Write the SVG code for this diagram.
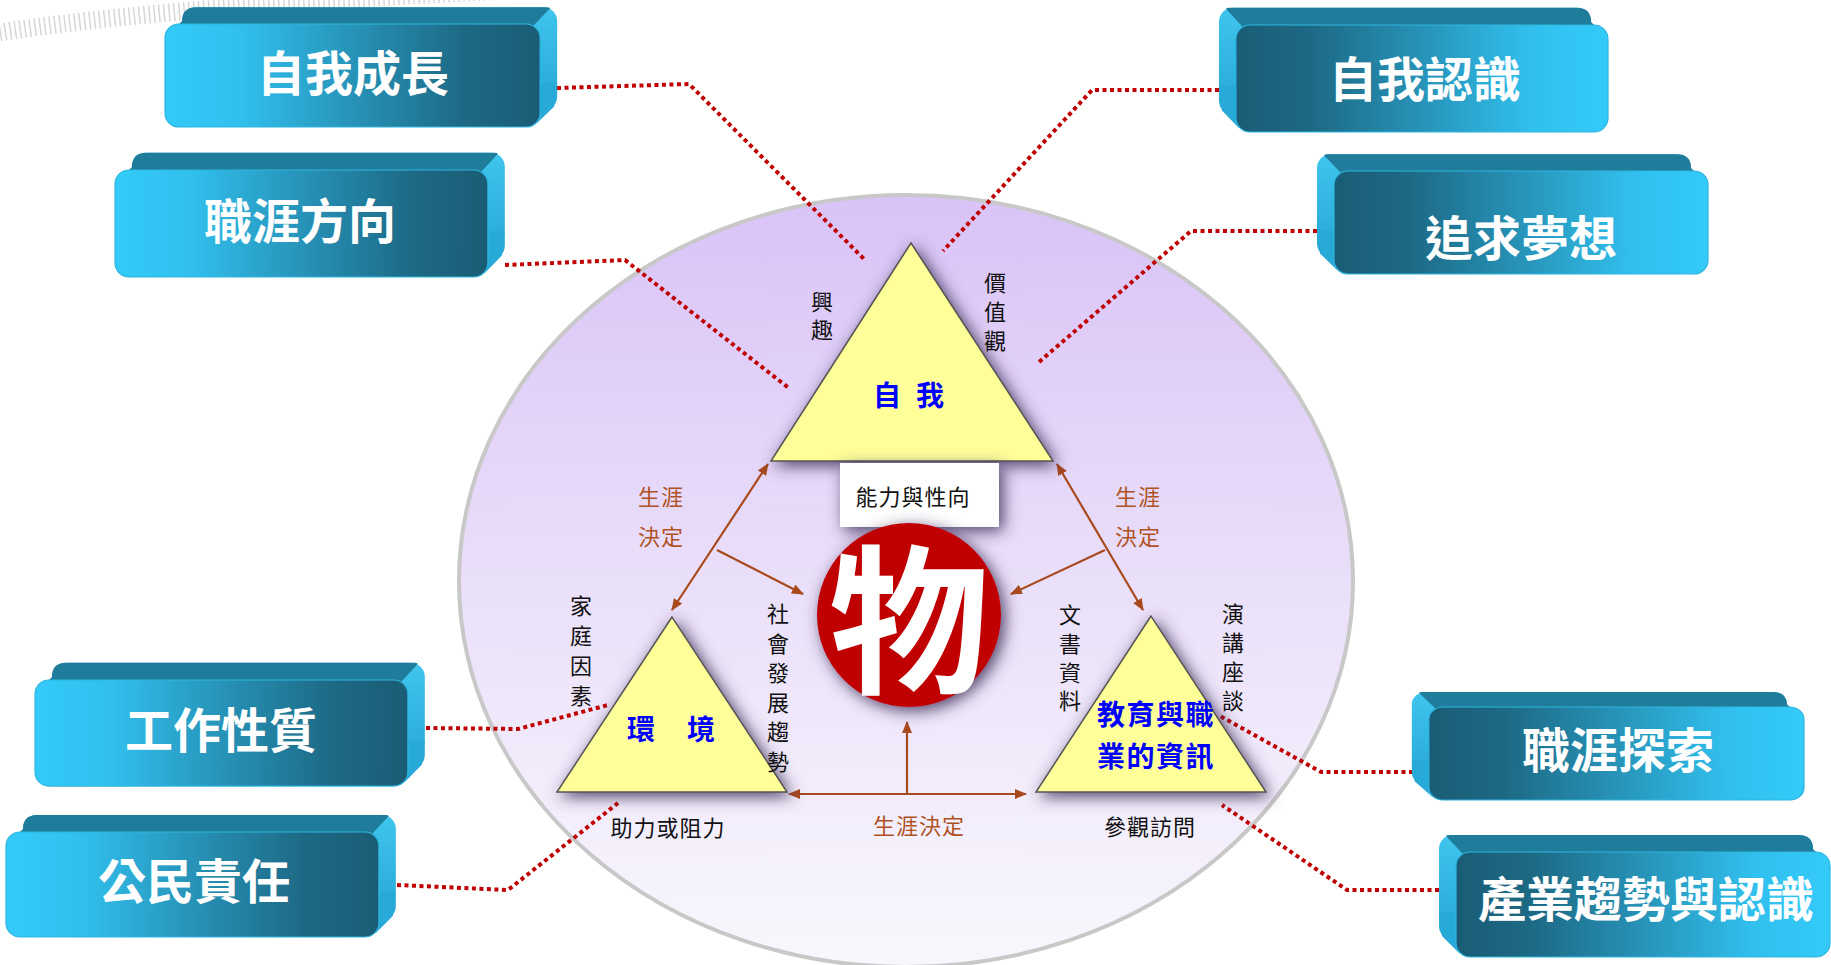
<svg xmlns="http://www.w3.org/2000/svg" xmlns:xlink="http://www.w3.org/1999/xlink" width="1831" height="965" viewBox="0 0 1831 965">
<style>
.bt{font-family:"Noto Sans CJK TC","Noto Sans CJK SC",sans-serif;font-weight:700;font-size:48px;fill:#ffffff;text-anchor:middle;dominant-baseline:central}
.lb{font-family:"Noto Sans CJK TC","Noto Sans CJK SC",sans-serif;font-size:22px;fill:#111111;text-anchor:middle;dominant-baseline:central}
.vt{font-family:"Noto Sans CJK TC","Noto Sans CJK SC",sans-serif;font-size:22px;fill:#111111;writing-mode:vertical-rl;text-anchor:start}
.br{font-family:"Noto Sans CJK TC","Noto Sans CJK SC",sans-serif;font-size:22px;fill:#b0521f;text-anchor:middle;dominant-baseline:central}
.bl{font-family:"Noto Sans CJK TC","Noto Sans CJK SC",sans-serif;font-weight:700;font-size:28px;fill:#0000ff;text-anchor:middle;dominant-baseline:central}
.dot{fill:none;stroke:#c00000;stroke-width:4;stroke-dasharray:4 3.5}
.arr{fill:none;stroke:#a84a1e;stroke-width:2.2}
.tri{fill:#ffff99;stroke:#555555;stroke-width:1.5}
</style>
<defs>
<linearGradient id="gFront" x1="0" y1="0" x2="1" y2="0">
<stop offset="0" stop-color="#33caf9"/>
<stop offset="0.2" stop-color="#31c0ee"/>
<stop offset="0.5" stop-color="#2793b8"/>
<stop offset="0.8" stop-color="#1d6984"/>
<stop offset="1" stop-color="#1a5c76"/>
</linearGradient>
<linearGradient id="gSide" x1="0" y1="0" x2="0" y2="1">
<stop offset="0" stop-color="#3fc5ee"/>
<stop offset="1" stop-color="#26a6d4"/>
</linearGradient>
<linearGradient id="gEll" x1="0" y1="0" x2="0" y2="1">
<stop offset="0" stop-color="#d9c3f7"/>
<stop offset="0.5" stop-color="#eadff9"/>
<stop offset="1" stop-color="#f9f7fd"/>
</linearGradient>
<filter id="shd" x="-30%" y="-30%" width="160%" height="160%">
<feGaussianBlur in="SourceAlpha" stdDeviation="8"/>
<feOffset dx="4" dy="4" result="b"/>
<feFlood flood-color="#3e3058" flood-opacity="0.9"/>
<feComposite in2="b" operator="in"/>
<feMerge><feMergeNode/><feMergeNode in="SourceGraphic"/></feMerge>
</filter>
<marker id="ah" viewBox="0 0 12 10" refX="11" refY="5" markerWidth="12" markerHeight="10" markerUnits="userSpaceOnUse" orient="auto-start-reverse">
<path d="M0,0 L12,5 L0,10 Z" fill="#a84a1e"/>
</marker>
<g id="box">
<rect x="17" y="-17" width="374" height="105" rx="14" fill="url(#gSide)"/>
<path d="M0,14 L17,-3 Q17,-17 31,-17 L381,-17 Q383,-17 384,-16 L368,1 L366,14 Z" fill="#1f7c9b"/>
<polygon points="355,60 391,60 388,84 371,101 355,101" fill="#28aad8"/>
<rect x="0" y="0" width="374" height="105" rx="14" fill="url(#gFront)" stroke="#2fb5e0" stroke-width="1.2"/>
</g>
</defs>
<rect x="0" y="0" width="1831" height="965" fill="#ffffff"/>
<path d="M-10,34 Q160,6 560,-12" fill="none" stroke="#d6d6d6" stroke-width="18" stroke-dasharray="1.5 3.5"/>
<ellipse id="bg-ellipse" cx="906" cy="581" rx="447" ry="386" fill="url(#gEll)" stroke="#c8c8c8" stroke-width="4"/>

<g id="connectors">
<polyline class="dot" points="557,88 689,84 864,259"/>
<polyline class="dot" points="505,265 625,260 790,389"/>
<polyline class="dot" points="1219,90 1092,90 943,251"/>
<polyline class="dot" points="1317,231 1191,231 1039,362"/>
<polyline class="dot" points="426,728 518,729 608,705"/>
<polyline class="dot" points="397,885 508,890 618,803"/>
<polyline class="dot" points="1413,772 1321,772 1220,716"/>
<polyline class="dot" points="1439,890 1347,890 1222,805"/>
<line class="arr" x1="768" y1="464" x2="672" y2="610" marker-start="url(#ah)" marker-end="url(#ah)"/>
<line class="arr" x1="717" y1="550" x2="803" y2="594" marker-end="url(#ah)"/>
<line class="arr" x1="1057" y1="464" x2="1143" y2="610" marker-start="url(#ah)" marker-end="url(#ah)"/>
<line class="arr" x1="1105" y1="550" x2="1011" y2="594" marker-end="url(#ah)"/>
<line class="arr" x1="789" y1="794" x2="1026" y2="794" marker-start="url(#ah)" marker-end="url(#ah)"/>
<line class="arr" x1="907" y1="794" x2="907" y2="722" marker-end="url(#ah)"/>
</g>

<g id="node-self">
<polygon class="tri" points="911,243 771,461 1053,461" filter="url(#shd)"/>
<text class="bl" x="916" y="394" font-size="30" style="letter-spacing:15px">自我</text>
<text class="vt" x="822" y="291" style="letter-spacing:6px">興趣</text>
<text class="vt" x="995" y="272" style="letter-spacing:7px">價值觀</text>
</g>

<g id="node-ability">
<rect x="840" y="463" width="159" height="64" fill="#ffffff" filter="url(#shd)"/>
<text class="lb" x="913" y="495" style="letter-spacing:1px">能力與性向</text>
</g>

<g id="node-wu">
<circle cx="909" cy="615" r="92" fill="#c00000" filter="url(#shd)"/>
<text x="909" y="620" font-family="Noto Sans CJK TC, Noto Sans CJK SC, sans-serif" font-weight="700" font-size="160" fill="#ffffff" text-anchor="middle" style="writing-mode:vertical-rl">物</text>
</g>

<g id="node-env">
<polygon class="tri" points="672,617 557,792 787,792" filter="url(#shd)"/>
<text class="bl" x="687" y="728" style="letter-spacing:32px">環境</text>
<text class="vt" x="581" y="595" style="letter-spacing:8px">家庭因素</text>
<text class="vt" x="778" y="603" style="letter-spacing:7.5px">社會發展趨勢</text>
<text class="lb" x="668" y="826" style="letter-spacing:1px">助力或阻力</text>
</g>

<g id="node-info">
<polygon class="tri" points="1151,616 1036,792 1266,792" filter="url(#shd)"/>
<text class="bl" x="1156" y="713" font-size="26" style="letter-spacing:1.5px">教育與職</text>
<text class="bl" x="1156" y="755" font-size="26" style="letter-spacing:1.5px">業的資訊</text>
<text class="vt" x="1070" y="604" style="letter-spacing:6.7px">文書資料</text>
<text class="vt" x="1233" y="603" style="letter-spacing:7px">演講座談</text>
<text class="lb" x="1150" y="825" style="letter-spacing:1px">參觀訪問</text>
</g>

<g id="labels-decision">
<text class="br" x="661" y="495" style="letter-spacing:1px">生涯</text>
<text class="br" x="661" y="535" style="letter-spacing:1px">決定</text>
<text class="br" x="1138" y="495" style="letter-spacing:1px">生涯</text>
<text class="br" x="1138" y="535" style="letter-spacing:1px">決定</text>
<text class="br" x="919" y="824" style="letter-spacing:1px">生涯決定</text>
</g>

<g id="box-self-growth">
<use xlink:href="#box" transform="translate(165,24) scale(1.003,0.981)"/>
<text class="bt" x="353" y="70">自我成長</text>
</g>
<g id="box-career-direction">
<use xlink:href="#box" transform="translate(115,170) scale(0.997,1.019)"/>
<text class="bt" x="300" y="218">職涯方向</text>
</g>
<g id="box-work-nature">
<use xlink:href="#box" transform="translate(35,680) scale(0.997,1.01)"/>
<text class="bt" x="221" y="727">工作性質</text>
</g>
<g id="box-civic">
<use xlink:href="#box" transform="translate(6,832) scale(0.997,1)"/>
<text class="bt" x="194" y="878">公民責任</text>
</g>
<g id="box-self-awareness">
<use xlink:href="#box" transform="translate(1608,25) scale(-0.995,1.019)"/>
<text class="bt" x="1425" y="76">自我認識</text>
</g>
<g id="box-dream">
<use xlink:href="#box" transform="translate(1708,171) scale(-1,0.981)"/>
<text class="bt" x="1521" y="235">追求夢想</text>
</g>
<g id="box-career-explore">
<use xlink:href="#box" transform="translate(1804,707) scale(-1.003,0.886)"/>
<text class="bt" x="1618" y="747">職涯探索</text>
</g>
<g id="box-industry">
<use xlink:href="#box" transform="translate(1830,852) scale(-1,1)"/>
<text class="bt" x="1646" y="896">產業趨勢與認識</text>
</g>
</svg>
